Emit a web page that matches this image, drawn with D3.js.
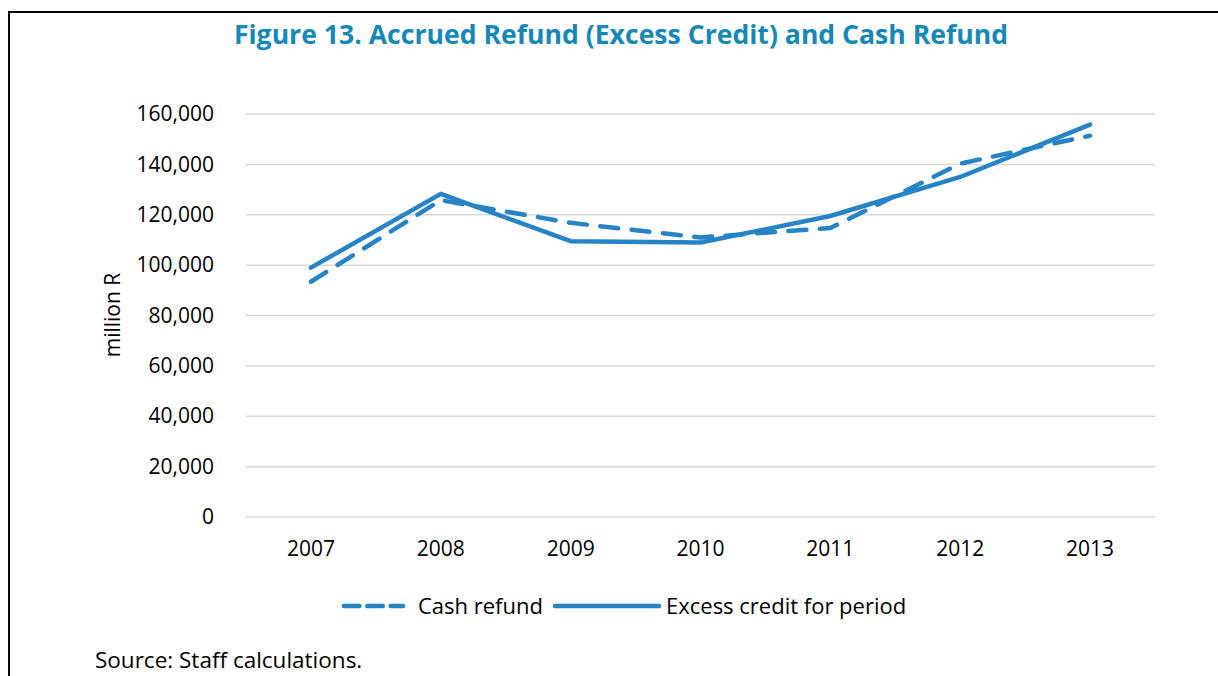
<!DOCTYPE html>
<html>
<head>
<meta charset="utf-8">
<script src="https://cdn.jsdelivr.net/npm/d3@7"></script>
<style>
  html, body { margin: 0; padding: 0; background: #fff; }
  svg text { font-family: "Open Sans", "Noto Sans", sans-serif; }
</style>
</head>
<body>
<svg id="chart" width="1218" height="676"></svg>
<script>
'use strict';

const years = ['2007', '2008', '2009', '2010', '2011', '2012', '2013'];
const cashRefund = [93400, 125800, 116800, 111000, 114700, 140300, 151400];
const excessCredit = [99000, 128300, 109500, 109000, 119500, 135000, 155800];
const yTicks = [0, 20000, 40000, 60000, 80000, 100000, 120000, 140000, 160000];

const TITLE = 'Figure 13. Accrued Refund (Excess Credit) and Cash Refund';
const BLUE = '#2683c6';
const TEAL = '#1489b8';
const LINE_W = 4.5;

const svg = d3.select('#chart');

// frame around the figure (right and bottom edges run off the page)
svg.append('path')
    .attr('d', 'M9,680 L9,12 L1222,12')
    .attr('fill', 'none')
    .attr('stroke', '#000')
    .attr('stroke-width', 2);

svg.append('text')
    .attr('x', 621)
    .attr('y', 44)
    .attr('text-anchor', 'middle')
    .style('font-size', '26.6px')
    .style('font-weight', 'bold')
    .style('fill', TEAL)
    .text(TITLE);

const x = d3.scaleBand().domain(years).range([246, 1155]);
const y = d3.scaleLinear().domain([0, 160000]).range([517, 114]);

// gridlines
svg.append('g')
    .selectAll('line')
    .data(yTicks)
    .join('line')
    .attr('x1', 246)
    .attr('x2', 1155)
    .attr('y1', (d) => y(d))
    .attr('y2', (d) => y(d))
    .attr('stroke', '#d9d9d9')
    .attr('stroke-width', 1.5);

const yAxis = svg.append('g')
    .attr('transform', 'translate(246,0)')
    .call(d3.axisLeft(y).tickValues(yTicks).tickFormat(d3.format(',')).tickSize(0).tickPadding(32));
yAxis.select('.domain').remove();
yAxis.selectAll('text')
    .style('font-size', '21px')
    .style('fill', '#000');

const xAxis = svg.append('g')
    .attr('transform', 'translate(0,517)')
    .call(d3.axisBottom(x).tickSize(0).tickPadding(24));
xAxis.select('.domain').remove();
xAxis.selectAll('text')
    .style('font-size', '21px')
    .style('fill', '#000');

svg.append('text')
    .attr('transform', 'translate(120,315) rotate(-90)')
    .attr('text-anchor', 'middle')
    .style('font-size', '21px')
    .style('fill', '#000')
    .text('million R');

const line = d3.line()
    .x((d, i) => x(years[i]) + x.bandwidth() / 2)
    .y((d) => y(d));

svg.append('path')
    .datum(excessCredit)
    .attr('d', line)
    .attr('fill', 'none')
    .attr('stroke', BLUE)
    .attr('stroke-width', LINE_W)
    .attr('stroke-linecap', 'round')
    .attr('stroke-linejoin', 'round');

svg.append('path')
    .datum(cashRefund)
    .attr('d', line)
    .attr('fill', 'none')
    .attr('stroke', BLUE)
    .attr('stroke-width', LINE_W)
    .attr('stroke-dasharray', '18,13.5')
    .attr('stroke-linecap', 'round')
    .attr('stroke-linejoin', 'round');

// legend
const legend = svg.append('g').attr('transform', 'translate(0,606)');
legend.append('line')
    .attr('x1', 344).attr('x2', 403).attr('y1', 0).attr('y2', 0)
    .attr('stroke', BLUE)
    .attr('stroke-width', LINE_W)
    .attr('stroke-dasharray', '15.5,7.8')
    .attr('stroke-linecap', 'round');
legend.append('text')
    .attr('x', 418).attr('y', 8)
    .style('font-size', '22px')
    .text('Cash refund');
legend.append('line')
    .attr('x1', 555).attr('x2', 659).attr('y1', 0).attr('y2', 0)
    .attr('stroke', BLUE)
    .attr('stroke-width', LINE_W)
    .attr('stroke-linecap', 'round');
legend.append('text')
    .attr('x', 666).attr('y', 8)
    .style('font-size', '22px')
    .text('Excess credit for period');

svg.append('text')
    .attr('x', 95)
    .attr('y', 668)
    .style('font-size', '22.5px')
    .text('Source: Staff calculations.');
</script>
</body>
</html>
